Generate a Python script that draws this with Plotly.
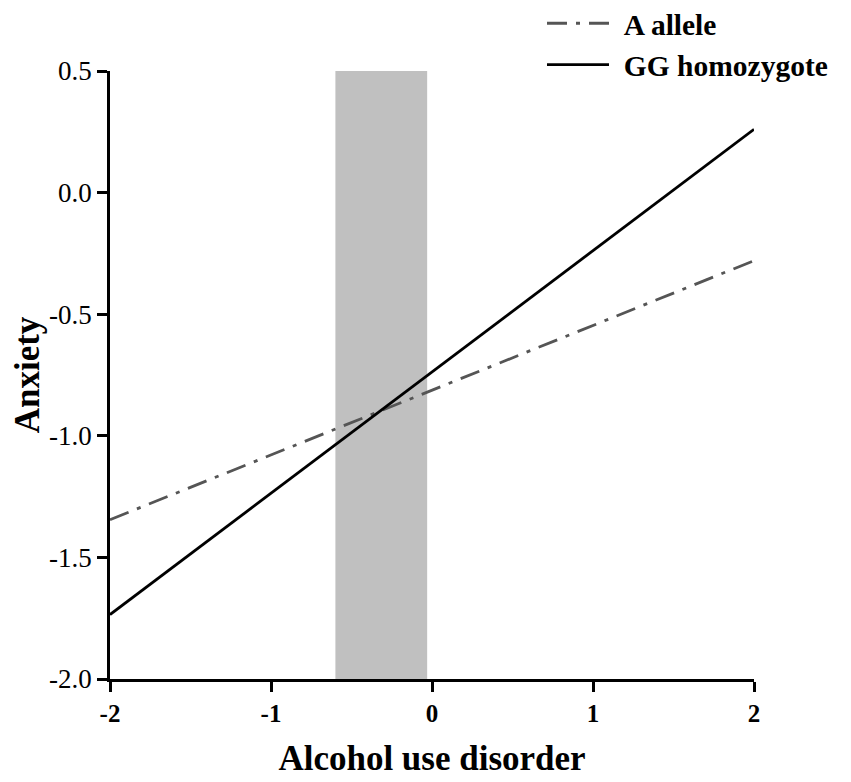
import plotly.graph_objects as go

# Data
x_vals = [-2, 2]
a_allele = [-1.345, -0.28]
gg_homo = [-1.735, 0.26]
shade_x = [-0.60, -0.03]
shade_y = [-2.0, 0.5]
x_ticks = [-2, -1, 0, 1, 2]
y_ticks = [0.5, 0.0, -0.5, -1.0, -1.5, -2.0]

FONT = "Liberation Serif, Times New Roman, serif"
GAP = "\u2004"

fig = go.Figure()
fig.add_trace(go.Scatter(
    x=x_vals, y=a_allele, mode="lines", name=f"<b>{GAP}A allele</b>",
    line=dict(color="#555555", width=2.8, dash="20px,9px,4px,9px"),
    legendgroup="a",
))
fig.add_trace(go.Scatter(
    x=x_vals, y=gg_homo, mode="lines", name=f"<b>{GAP}GG homozygote</b>",
    line=dict(color="black", width=2.8),
    legendgroup="g",
))

fig.add_shape(type="rect", xref="x", yref="y",
              x0=shade_x[0], x1=shade_x[1], y0=shade_y[0], y1=shade_y[1],
              fillcolor="#c0c0c0", line=dict(width=0), layer="below")

fig.update_layout(
    width=851, height=782,
    margin=dict(l=102, r=105, t=63, b=111, autoexpand=False),
    plot_bgcolor="white", paper_bgcolor="white",
    font=dict(family=FONT, color="black"),
    showlegend=True,
    legend=dict(
        x=0.6708, y=1.1208, xanchor="left", yanchor="top",
        font=dict(family=FONT, size=29.5, color="black"),
        bgcolor="rgba(0,0,0,0)", tracegroupgap=0,
        itemwidth=62,
    ),
    xaxis=dict(
        range=[-2, 2], tickvals=x_ticks,
        ticktext=[f"<b>{v}</b>" for v in x_ticks],
        showline=True, linecolor="black", linewidth=2.8,
        ticks="outside", ticklen=10, tickwidth=2.8, tickcolor="black",
        showgrid=False, zeroline=False, automargin=False,
        tickfont=dict(family=FONT, size=25, color="black"),
        title=dict(text="<b>Alcohol use disorder</b>",
                   font=dict(family=FONT, size=35, color="black"), standoff=20),
    ),
    yaxis=dict(
        range=[-2, 0.5], tickvals=y_ticks,
        ticktext=[f"{v:.1f}" for v in y_ticks],
        showline=True, linecolor="black", linewidth=2.8,
        ticks="outside", ticklen=10, tickwidth=2.8, tickcolor="black",
        showgrid=False, zeroline=False, automargin=False,
        tickfont=dict(family=FONT, size=27, color="black"),
        title=dict(text="<b>Anxiety</b>",
                   font=dict(family=FONT, size=35, color="black"), standoff=2),
    ),
)

fig.write_html("out.html")
